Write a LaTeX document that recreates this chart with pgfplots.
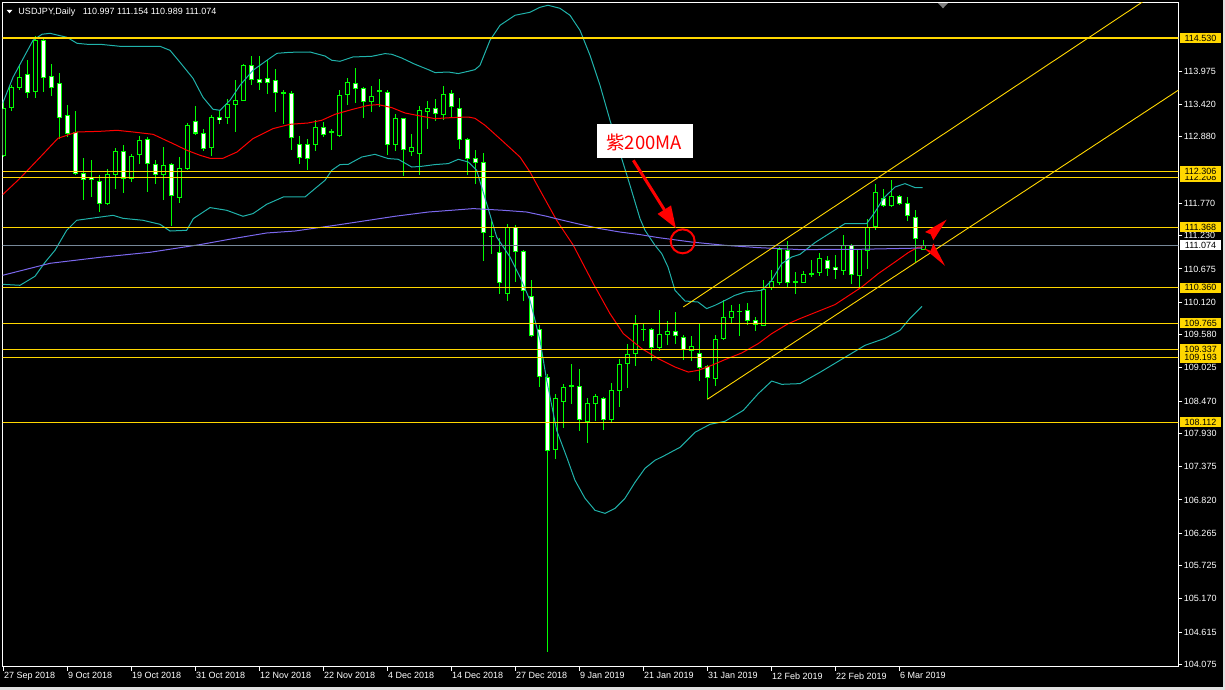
\documentclass[border=0pt]{standalone}
\usepackage{fontspec}
\setmainfont{Liberation Sans}
\newfontfamily\cjk{Noto Sans CJK SC}
\usepackage{pgfplots}
\pgfplotsset{compat=1.18}
\usepackage{pgfplotstable}
\usetikzlibrary{arrows.meta}

\definecolor{bbteal}{HTML}{20B2AA}
\definecolor{ma200}{HTML}{7B68EE}
\definecolor{lvl}{HTML}{FFD700}
\definecolor{curgray}{HTML}{778899}
\definecolor{candle}{HTML}{00FF00}
\definecolor{winbg}{HTML}{E0E0E0}

% daily bars: index, open, high, low, close
\pgfplotstableread{
i o h l c
0 112.572 113.490 112.538 113.351
1 113.368 113.740 113.311 113.702
2 113.712 114.074 113.668 113.879
3 113.924 114.169 113.528 113.612
4 113.628 114.558 113.528 114.491
5 114.491 114.536 113.628 113.869
6 113.890 114.102 113.562 113.702
7 113.769 113.946 112.851 113.211
8 113.239 113.406 112.877 112.944
9 112.961 113.306 112.238 112.266
10 112.266 112.533 111.821 112.166
11 112.210 112.500 111.876 112.166
12 112.138 112.238 111.625 111.766
13 111.766 112.350 111.737 112.255
14 112.250 112.694 112.016 112.639
15 112.644 112.739 111.943 112.183
16 112.183 112.588 112.126 112.555
17 112.583 112.889 112.433 112.822
18 112.834 112.877 111.959 112.443
19 112.417 112.488 112.099 112.250
20 112.250 112.710 111.821 112.405
21 112.417 112.443 111.387 111.904
22 111.866 112.543 111.776 112.350
23 112.350 113.111 112.321 113.073
24 113.128 113.390 112.906 112.944
25 112.934 113.017 112.644 112.684
26 112.700 113.239 112.560 113.211
27 113.201 113.323 113.089 113.168
28 113.201 113.518 113.101 113.418
29 113.418 113.824 112.961 113.490
30 113.490 114.102 113.473 114.074
31 114.069 114.224 113.740 113.835
32 113.835 114.224 113.657 113.790
33 113.852 114.158 113.590 113.795
34 113.812 114.019 113.295 113.618
35 113.620 113.657 113.089 113.615
36 113.612 113.640 112.655 112.867
37 112.750 112.889 112.422 112.543
38 112.750 112.851 112.321 112.517
39 112.750 113.156 112.644 113.034
40 113.034 113.128 112.877 112.917
41 112.963 113.017 112.655 112.958
42 112.894 113.657 112.877 113.568
43 113.585 113.862 113.406 113.785
44 113.769 114.036 113.445 113.685
45 113.685 113.712 113.194 113.478
46 113.478 113.724 113.295 113.552
47 113.643 113.840 113.378 113.647
48 113.628 113.668 112.572 112.750
49 112.750 113.256 112.644 113.184
50 113.184 113.201 112.221 112.667
51 112.644 112.934 112.560 112.700
52 112.600 113.390 112.238 113.318
53 113.306 113.473 113.006 113.351
54 113.351 113.518 113.139 113.278
55 113.261 113.724 113.156 113.590
56 113.602 113.657 113.201 113.395
57 113.351 113.535 112.672 112.834
58 112.834 112.867 112.238 112.517
59 112.517 112.667 112.099 112.460
60 112.450 112.617 110.807 111.281
61 111.222 111.470 110.931 111.217
62 110.948 111.198 110.252 110.447
63 110.263 111.420 110.140 111.365
64 111.365 111.403 110.457 110.969
65 110.969 110.986 110.140 110.318
66 110.218 110.485 109.539 109.567
67 109.662 109.734 108.704 108.883
68 108.861 108.928 104.280 107.648
69 107.659 108.594 107.509 108.511
70 108.471 108.749 108.027 108.694
71 108.719 109.095 108.427 108.723
72 108.721 109.011 107.970 108.160
73 108.137 108.527 107.770 108.427
74 108.427 108.594 108.137 108.549
75 108.511 108.537 107.993 108.160
76 108.160 108.778 108.120 108.649
77 108.649 109.178 108.370 109.078
78 109.095 109.417 108.694 109.245
79 109.262 109.901 109.055 109.751
80 109.669 109.751 109.472 109.665
81 109.662 109.696 109.138 109.362
82 109.362 109.996 109.305 109.579
83 109.579 109.801 109.400 109.629
84 109.629 109.951 109.417 109.567
85 109.539 109.579 109.162 109.334
86 109.312 109.551 109.133 109.379
87 109.262 109.751 108.804 109.028
88 109.038 109.078 108.499 108.861
89 108.844 109.579 108.721 109.495
90 109.512 110.151 109.484 109.863
91 109.863 110.068 109.773 109.968
92 109.970 110.085 109.562 109.966
93 109.980 110.106 109.746 109.813
94 109.813 109.873 109.634 109.751
95 109.729 110.485 109.717 110.335
96 110.373 110.652 110.330 110.469
97 110.457 111.041 110.402 111.003
98 110.986 111.136 110.373 110.447
99 110.459 110.624 110.252 110.455
100 110.447 110.636 110.440 110.585
101 110.599 110.819 110.540 110.595
102 110.614 110.948 110.557 110.848
103 110.824 110.891 110.552 110.691
104 110.697 110.914 110.514 110.664
105 110.647 111.248 110.580 111.065
106 111.065 111.098 110.430 110.585
107 110.569 111.014 110.373 110.998
108 110.986 111.504 110.669 111.375
109 111.392 112.088 111.332 111.949
110 111.849 112.016 111.709 111.737
111 111.732 112.154 111.709 111.882
112 111.882 111.916 111.737 111.766
113 111.766 111.876 111.470 111.565
114 111.532 111.654 110.791 111.181
115 110.997 111.154 110.989 111.074
}\candles

\begin{document}
\begin{tikzpicture}
\path[use as bounding box] (0bp,0bp) rectangle (1225bp,690bp);
\fill[black] (0bp,0bp) rectangle (1225bp,690bp);
\fill[winbg] (0bp,0bp) rectangle (1225bp,3bp);
\fill[winbg] (1223bp,0bp) rectangle (1225bp,690bp);

\begin{axis}[
  at={(2.7bp,23bp)}, anchor=south west,
  scale only axis, width=1175.6bp, height=664bp,
  xmin=-0.0375, xmax=146.91, ymin=104.031, ymax=115.114,
  axis line style={white, line width=1bp},
  xtick pos=bottom, ytick pos=right,
  tick align=outside, major tick length=4bp,
  tick style={white, line width=1bp},
  xtick={0,8,...,112},
  xticklabels={27 Sep 2018,9 Oct 2018,19 Oct 2018,31 Oct 2018,12 Nov 2018,22 Nov 2018,4 Dec 2018,14 Dec 2018,27 Dec 2018,9 Jan 2019,21 Jan 2019,31 Jan 2019,12 Feb 2019,22 Feb 2019,6 Mar 2019},
  ytick={113.975,113.420,112.880,111.770,111.230,110.675,110.120,109.580,109.025,108.470,107.930,107.375,106.820,106.265,105.725,105.170,104.615,104.075},
  yticklabels={113.975,113.420,112.880,111.770,111.230,110.675,110.120,109.580,109.025,108.470,107.930,107.375,106.820,106.265,105.725,105.170,104.615,104.075},
  ticklabel style={font=\fontsize{9bp}{10bp}\selectfont, text=white},
  xticklabel style={anchor=north west, inner sep=0pt, xshift=1bp, yshift=-1.5bp},
  yticklabel style={anchor=west, inner sep=0pt, xshift=1.5bp},
]

% wicks
\addplot[draw=none, mark=none, forget plot, error bars/.cd, y dir=both, y explicit, error mark=none,
  error bar style={draw=candle, line width=1bp}]
  table[x=i, y expr={(\thisrow{h}+\thisrow{l})/2}, y error expr={(\thisrow{h}-\thisrow{l})/2}] {\candles};
% body outlines
\addplot[draw=none, mark=none, forget plot, error bars/.cd, y dir=both, y explicit, error mark=none,
  error bar style={draw=candle, line width=5bp}]
  table[x=i, y expr={(\thisrow{o}+\thisrow{c})/2}, y error expr={abs(\thisrow{o}-\thisrow{c})/2+0.00835}] {\candles};
% bearish bodies (white)
\addplot[draw=none, mark=none, forget plot, error bars/.cd, y dir=both, y explicit, error mark=none,
  error bar style={draw=white, line width=3bp}]
  table[x=i, y expr={(\thisrow{o}+\thisrow{c})/2}, y error expr={max((\thisrow{o}-\thisrow{c})/2-0.00835,0)}] {\candles};
% bullish bodies (black)
\addplot[draw=none, mark=none, forget plot, error bars/.cd, y dir=both, y explicit, error mark=none,
  error bar style={draw=black, line width=3bp}]
  table[x=i, y expr={(\thisrow{o}+\thisrow{c})/2}, y error expr={max((\thisrow{c}-\thisrow{o})/2-0.00835,0)}] {\candles};

% Bollinger upper
\addplot[bbteal, line width=1bp, mark=none] coordinates {
(-0.04,113.440)(1.25,113.874)(3.75,114.491)(4.875,114.592)(5.875,114.608)(8,114.541)(9.25,114.441)
(10.5,114.425)(12.125,114.425)(14.625,114.391)(17.125,114.391)(19.625,114.391)(20.875,114.324)
(22.125,114.124)(23.75,113.857)(25,113.540)(26.25,113.340)(27.125,113.323)(28.375,113.490)
(29.625,113.740)(31.25,113.991)(33,114.158)(34.25,114.274)(35.875,114.291)(38.375,114.296)
(40.25,114.229)(41.09,114.158)(42.125,114.141)(43.75,114.213)(46.09,114.224)(47.75,114.269)
(48.59,114.258)(49.84,114.196)(51.5,114.091)(53.16,114.002)(54,113.952)(55.66,113.962)
(56.91,113.936)(58.16,113.974)(59,114.002)(59.625,114.074)(60.875,114.491)(62.125,114.742)
(64,114.909)(65.875,114.959)(67.125,115.042)(68.125,115.076)(69.625,115.025)(70.875,114.909)
(72.125,114.658)(73.375,114.241)(74.625,113.740)(75.875,113.156)(77.34,112.517)(78.375,112.071)
(79.625,111.515)(80.25,111.320)(81.5,111.069)(82.34,110.931)(83.125,110.707)(84,110.318)
(85.25,110.140)(86.875,110.123)(87.96,110.013)(89,110.068)(90.25,110.151)(91.5,110.235)
(92.75,110.290)(94.84,110.318)(96.09,110.485)(97.34,110.764)(98.59,110.874)(99.625,110.919)
(101.5,111.115)(103.59,111.292)(105.25,111.432)(107.96,111.432)(109,111.625)(110.04,111.849)
(111.5,112.043)(112.75,112.099)(114,112.033)(114.96,112.033)};
% Bollinger middle
\addplot[red, line width=1bp, mark=none] coordinates {
(-0.04,111.916)(2.125,112.188)(4.625,112.538)(6.875,112.856)(9.25,112.961)(12.125,112.972)
(14.25,112.989)(16.25,112.961)(18.75,112.922)(21.25,112.767)(23,112.655)(24.625,112.572)
(25.875,112.522)(27.5,112.522)(29.25,112.627)(31.25,112.851)(33.75,113.017)(35.875,113.089)
(38.125,113.111)(39.84,113.156)(41.5,113.256)(43.59,113.335)(45.66,113.406)(46.91,113.418)
(48.59,113.368)(50.25,113.278)(52.34,113.223)(54,113.184)(56.09,113.201)(58.16,113.211)
(59,113.189)(60.25,113.073)(62.34,112.822)(64.625,112.543)(65.875,112.293)(67.125,111.988)
(69.21,111.487)(71.29,111.069)(73.79,110.430)(75.875,109.929)(77.54,109.595)(79.84,109.345)
(81.91,109.178)(84,109.038)(85.66,108.954)(86.91,108.983)(88.59,109.066)(90.25,109.162)
(92.34,109.272)(94.41,109.429)(96.09,109.595)(98.16,109.762)(99.625,109.846)(104,110.080)
(107.34,110.373)(109.41,110.597)(111.5,110.791)(113.16,110.948)(114.41,111.041)(115.04,111.041)};
% Bollinger lower
\addplot[bbteal, line width=1bp, mark=none] coordinates {
(-0.04,110.418)(2.125,110.402)(4,110.552)(5.25,110.786)(6.5,110.986)(7.96,111.320)(9.21,111.487)
(11.29,111.525)(13.75,111.570)(15,111.520)(17.5,111.487)(19.625,111.420)(20.875,111.308)
(22.96,111.320)(23.79,111.515)(25.875,111.699)(27.96,111.654)(30,111.554)(31.25,111.599)
(32.96,111.754)(35.04,111.876)(36.29,111.876)(37.75,111.876)(39,112.016)(40.25,112.154)
(41.09,112.321)(42.125,112.417)(43.16,112.421)(44.84,112.543)(46.5,112.588)(47.54,112.543)
(48.16,112.517)(49.41,112.505)(51.09,112.376)(52.34,112.388)(54,112.417)(55.66,112.433)
(56.91,112.505)(58.16,112.460)(59.21,112.321)(60.46,111.765)(61.71,111.208)(63.375,110.874)
(64.625,110.540)(65.875,110.151)(67.125,109.484)(67.96,108.816)(69.21,107.981)(70.46,107.536)
(71.5,107.147)(72.75,106.847)(74,106.646)(75.25,106.596)(76.5,106.679)(77.75,106.847)
(79,107.113)(80.25,107.347)(81.5,107.481)(82.75,107.564)(84.625,107.698)(86.5,107.948)
(88.375,108.082)(90.25,108.132)(92.54,108.315)(94.41,108.594)(96.09,108.804)(97.34,108.749)
(99.625,108.761)(102.125,108.950)(105.25,109.200)(107.75,109.400)(110.25,109.517)
(112.125,109.651)(113.375,109.851)(114.875,110.051)};
% 200-day moving average
\addplot[ma200, line width=1bp, mark=none] coordinates {
(-0.04,110.569)(5.875,110.769)(12.125,110.869)(18.375,110.953)(24.625,111.081)(28.75,111.181)
(32.96,111.275)(36.5,111.308)(41.5,111.403)(44.84,111.470)(49,111.554)(53.16,111.625)
(57.125,111.665)(58.79,111.682)(62.54,111.654)(65.46,111.625)(67.96,111.554)(69.625,111.498)
(72.125,111.420)(74.625,111.348)(77.125,111.291)(79.625,111.248)(81.91,111.198)(86.09,111.124)
(90.25,111.069)(94.41,111.031)(99.625,110.998)(107.125,111.003)(114.875,111.024)};

% current price line and horizontal levels
\addplot[curgray, line width=1bp, mark=none] coordinates {(-1,111.074)(148,111.074)};
\pgfplotsinvokeforeach{114.530,112.306,112.208,111.368,110.360,109.765,109.337,109.193,108.112}{
  \addplot[color=lvl, line width=1.1bp, mark=none] coordinates {(-1,#1)(148,#1)};
}
% trend channel
\addplot[color=lvl, line width=0.9bp, mark=none] coordinates {(85.04,110.040)(143,115.182)};
\addplot[color=lvl, line width=0.9bp, mark=none] coordinates {(88.04,108.499)(148,113.754)};

% annotations
\fill[white] (axis cs:74.29,113.089) rectangle (axis cs:86.21,112.527);
\node[text=red, font=\cjk\fontsize{18.5bp}{20bp}\selectfont, inner sep=0pt] at (axis cs:80.15,112.794) {紫200MA};
\draw[red, line width=3bp, -{Triangle[length=22bp, width=15bp]}] (axis cs:78.79,112.488) -- (axis cs:84.125,111.353);
\draw[red, line width=2bp] (axis cs:84.96,111.136) circle[radius=12bp];
\fill[red] (axis cs:117.96,111.498) -- (axis cs:115.25,111.291) -- (axis cs:115.96,111.253) -- (axis cs:116.29,111.153) -- cycle;
\fill[red] (axis cs:117.75,110.727) -- (axis cs:115.125,111.019) -- (axis cs:115.96,110.978) -- (axis cs:116.29,111.103) -- cycle;
\fill[gray] (axis cs:116.9,115.11) -- (axis cs:118.1,115.11) -- (axis cs:117.5,115.025) -- cycle;

\coordinate (L1) at (axis cs:146.91,114.530);
\coordinate (L2) at (axis cs:146.91,112.208);
\coordinate (L3) at (axis cs:146.91,112.306);
\coordinate (L4) at (axis cs:146.91,111.368);
\coordinate (L5) at (axis cs:146.91,110.360);
\coordinate (L6) at (axis cs:146.91,109.765);
\coordinate (L7) at (axis cs:146.91,109.337);
\coordinate (L8) at (axis cs:146.91,109.193);
\coordinate (L9) at (axis cs:146.91,108.112);
\coordinate (LC) at (axis cs:146.91,111.074);
\end{axis}

\tikzset{pricebox/.style={anchor=west, xshift=1.7bp, inner sep=0pt, minimum width=40.7bp, minimum height=10bp,
  font=\fontsize{9bp}{10bp}\selectfont, text=black}}
\foreach \c/\v in {L1/114.530,L2/112.208,L3/112.306,L4/111.368,L5/110.360,L6/109.765,L7/109.337,L8/109.193,L9/108.112}
  \node[pricebox, fill=lvl] at (\c) {\v};
\node[pricebox, fill=white] at (LC) {111.074};

% title
\fill[white] (6.7bp,680bp) -- (12.3bp,680bp) -- (9.5bp,676.7bp) -- cycle;
\node[anchor=base west, inner sep=0pt, text=white, font=\fontsize{9bp}{10bp}\selectfont] at (18.3bp,675bp)
  {USDJPY,Daily\hspace{7.5bp}110.997 111.154 110.989 111.074};
\end{tikzpicture}
\end{document}
